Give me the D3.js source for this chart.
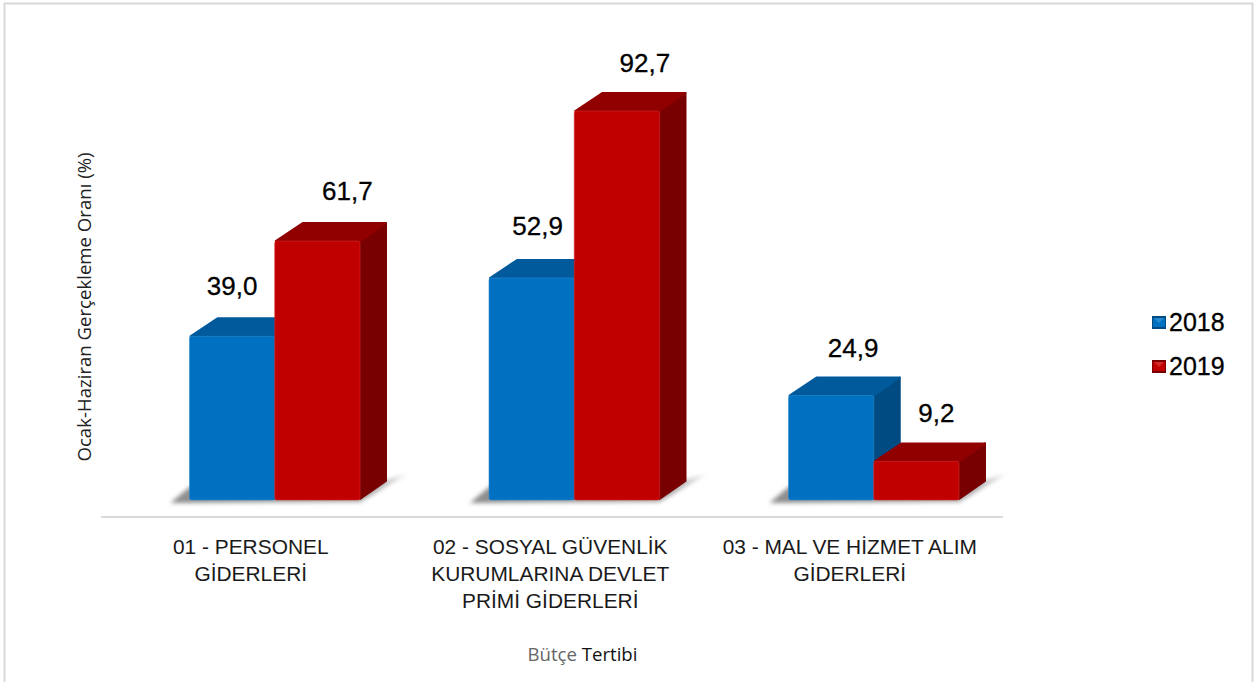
<!DOCTYPE html>
<html>
<head>
<meta charset="utf-8">
<script src="https://cdn.jsdelivr.net/npm/d3@7"></script>
<style>
  body { margin: 0; background: #fff; }
  svg { display: block; }
  text { fill: #000; }
</style>
</head>
<body>
<div id="content"></div>
<script>
// Values
let categories = ['01', '02', '03'];
let categoryLines = [
  ['01 - PERSONEL', 'GİDERLERİ'],
  ['02 - SOSYAL GÜVENLİK', 'KURUMLARINA DEVLET', 'PRİMİ GİDERLERİ'],
  ['03 - MAL VE HİZMET ALIM', 'GİDERLERİ'],
];
let seriesNames = ['2018', '2019'];
let values2018 = [39.0, 52.9, 24.9];
let values2019 = [61.7, 92.7, 9.2];

let width = 1258;
let height = 682;
let depthX = 27;
let depthY = 19;

let colors = {
  2018: { front: '#0070c0', top: '#005a9b', side: '#004c82', edge: '#2a8ad0' },
  2019: { front: '#c00000', top: '#900000', side: '#780000', edge: '#d42a2a' },
};

let svg = d3.select('#content').append('svg')
  .attr('width', width)
  .attr('height', height);

let defs = svg.append('defs');
defs.append('filter').attr('id', 'blur')
  .attr('x', '-10%').attr('y', '-50%').attr('width', '120%').attr('height', '200%')
  .append('feGaussianBlur').attr('stdDeviation', 2.2);

let fade = defs.append('linearGradient').attr('id', 'shadow');
fade.append('stop').attr('offset', 0).attr('stop-color', '#8c8c8c');
fade.append('stop').attr('offset', 0.85).attr('stop-color', '#a6a6a6');
fade.append('stop').attr('offset', 1).attr('stop-color', '#e4e4e4');

// frame runs off the bottom of the picture
svg.append('path')
  .attr('d', `M4.5,${height}V3.5H1252.5V${height}`)
  .attr('fill', 'none')
  .attr('stroke', '#d9d9d9')
  .attr('stroke-width', 2);

let x0 = d3.scaleBand().domain(categories).range([125, 1023.5]);
let x1 = d3.scaleBand().domain(seriesNames).range([64.5, 235]);
let y = d3.scaleLinear().domain([0, 92.7]).range([500, 111]);

let rows = categories.map(function(c, i) {
  return { category: c, lines: categoryLines[i], bars: [
    { series: '2018', value: values2018[i] },
    { series: '2019', value: values2019[i] },
  ] };
});

// label nudges, the source places these by hand
let labelShift = { '01': [0, 30], '02': [6, 28], '03': [22, 20] };
let labelLift = { '01': [41, 41], '02': [43, 39], '03': [39, 39] };

let groups = svg.selectAll('g.group').data(rows).enter().append('g')
  .attr('class', 'group')
  .attr('transform', d => `translate(${x0(d.category)},0)`);

// floor shadow
groups.append('path')
  .attr('d', function() {
    let l = x1('2018');
    let r = x1('2019') + x1.bandwidth();
    let b = y(0);
    return `M${l - 19},${b + 3}L${l},${b - 13}L${r + depthX},${b - 20}L${r + depthX + 20},${b - 26}L${r},${b + 2}Z`;
  })
  .attr('fill', 'url(#shadow)')
  .attr('filter', 'url(#blur)');

let bars = groups.selectAll('g.bar').data(d => d.bars).enter().append('g')
  .attr('class', 'bar');

// faces are inset by 1 and stroked by 2 to get the soft corners
bars.append('path')
  .attr('fill', d => colors[d.series].side)
  .attr('stroke', d => colors[d.series].side)
  .attr('stroke-width', 2)
  .attr('stroke-linejoin', 'round')
  .attr('d', function(d) {
    let r = x1(d.series) + x1.bandwidth();
    return `M${r},${y(d.value) + 1}l${depthX - 1},${-depthY}V${y(0) - depthY}L${r},${y(0) - 1}Z`;
  });

bars.append('path')
  .attr('fill', d => colors[d.series].top)
  .attr('stroke', d => colors[d.series].top)
  .attr('stroke-width', 2)
  .attr('stroke-linejoin', 'round')
  .attr('d', function(d) {
    let l = x1(d.series);
    let r = l + x1.bandwidth();
    return `M${l + 1},${y(d.value)}l${depthX},${-depthY + 1}H${r + depthX - 1}L${r},${y(d.value)}Z`;
  });

bars.append('rect')
  .attr('x', d => x1(d.series))
  .attr('y', d => y(d.value))
  .attr('width', x1.bandwidth())
  .attr('height', d => y(0) - y(d.value))
  .attr('rx', 2)
  .attr('fill', d => colors[d.series].front)
  .attr('stroke', d => colors[d.series].edge)
  .attr('stroke-opacity', 0.6)
  .attr('stroke-width', 1);

// value labels
groups.each(function(d) {
  let g = d3.select(this);
  d.bars.forEach(function(b, i) {
    g.append('text')
      .attr('x', x1(b.series) + x1.bandwidth() / 2 + labelShift[d.category][i])
      .attr('y', y(b.value) - labelLift[d.category][i])
      .attr('text-anchor', 'middle')
      .style('font', '26px "Liberation Sans", sans-serif')
      .style('stroke', '#000')
      .style('stroke-width', 0.3)
      .text(b.value.toFixed(1).replace('.', ','));
  });
});

// category axis
svg.append('line')
  .attr('x1', 101).attr('x2', 1003)
  .attr('y1', 517).attr('y2', 517)
  .attr('stroke', '#d9d9d9')
  .attr('stroke-width', 2);

groups.each(function(d) {
  let cx = x0.bandwidth() / 2 - 24;
  let label = d3.select(this).append('text')
    .attr('x', cx)
    .attr('y', 554)
    .attr('text-anchor', 'middle')
    .style('font', '20.9px "Liberation Sans", sans-serif')
    .style('fill', '#1a1a1a');
  label.selectAll('tspan').data(d.lines).enter().append('tspan')
    .attr('x', cx)
    .attr('dy', (l, i) => i ? 27 : 0)
    .text(l => l);
});

// axis titles
svg.append('text')
  .attr('transform', 'translate(91,307) rotate(-90)')
  .attr('text-anchor', 'middle')
  .style('font', '18.6px "Open Sans", sans-serif')
  .style('fill', '#222')
  .text('Ocak-Haziran Gerçekleme Oranı (%)');

let xTitle = svg.append('text')
  .attr('x', 582.5)
  .attr('y', 661)
  .attr('text-anchor', 'middle')
  .style('font', '18.6px "Open Sans", sans-serif');
xTitle.append('tspan').style('fill', '#666').text('Bütçe ');
xTitle.append('tspan').style('fill', '#111').text('Tertibi');

// legend
let legendY = d3.scalePoint().domain(seriesNames).range([316, 360]);
let legend = svg.selectAll('g.legend').data(seriesNames).enter().append('g')
  .attr('class', 'legend')
  .attr('transform', d => `translate(1152,${legendY(d)})`);

legend.append('rect')
  .attr('width', 14).attr('height', 13)
  .attr('fill', d => colors[d].side);
legend.append('rect')
  .attr('x', 1).attr('y', 2).attr('width', 12).attr('height', 9)
  .attr('fill', d => colors[d].front);
legend.append('path')
  .attr('d', 'M2,2H12L7,7Z')
  .attr('fill', d => colors[d].edge);
legend.append('text')
  .attr('x', 17)
  .attr('y', 15)
  .style('font', '25px "Liberation Sans", sans-serif')
  .style('stroke', '#000')
  .style('stroke-width', 0.3)
  .text(d => d);
</script>
</body>
</html>
